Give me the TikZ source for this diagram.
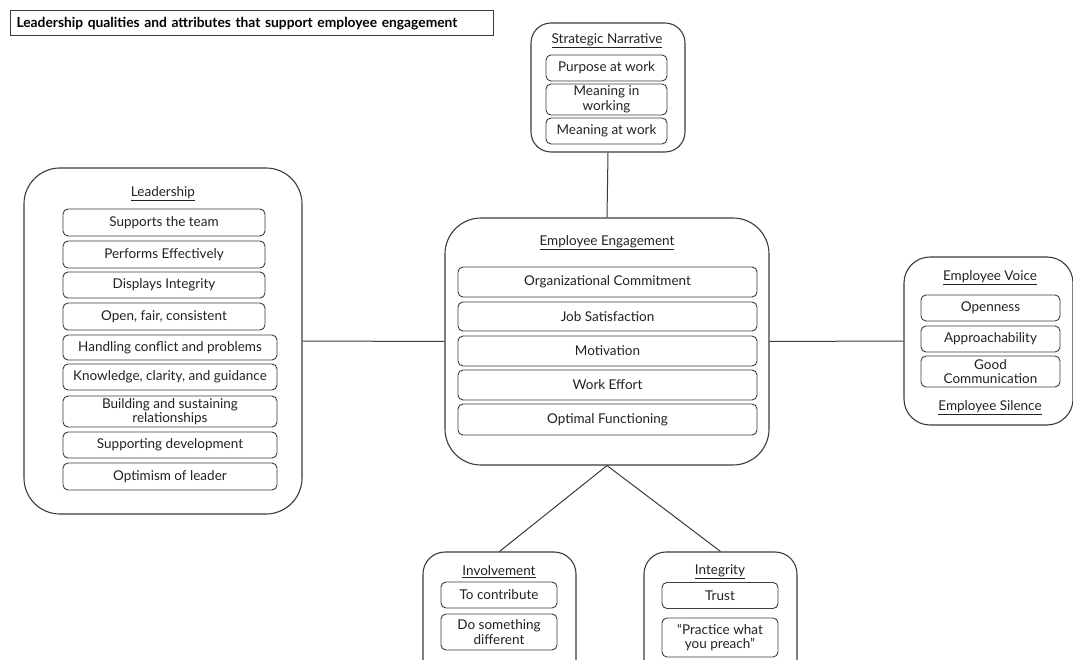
\documentclass[tikz,border=0pt]{standalone}
\usepackage{fontspec}
\setmainfont{Lato}
\definecolor{ln}{HTML}{3C3C3C}
\definecolor{tx}{HTML}{222222}
\tikzset{
  outerbox/.style={draw=ln, line width=1.1pt, rounded corners=#1, inner sep=0pt},
  outerbox/.default=32pt,
  itembox/.style={draw=ln, line width=0.9pt, rounded corners=5pt, inner sep=0pt, align=center, text=tx, font=\fontsize{13.5}{14.5}\selectfont},
  headtext/.style={text=tx, inner sep=0pt, font=\fontsize{13.5}{15}\selectfont},
  link/.style={draw=ln, line width=1pt}
}
\begin{document}
\begin{tikzpicture}[x=1pt,y=-1pt]
\useasboundingbox (0,0) rectangle (1073,660);
\clip (0,0) rectangle (1073,660);
\fill[white] (0,0) rectangle (1073,660);
% title
\node[draw=ln, line width=1pt, anchor=west, text width=471pt, align=left, inner xsep=6pt, minimum height=25pt, text=black, font=\bfseries\fontsize{13.8}{15}\selectfont] (title) at (10,23.5) {Leadership qualities and attributes that support employee engagement};

% Strategic Narrative
\node[outerbox=20pt, minimum width=154pt, minimum height=129pt] (sn) at (608,87.5) {};
\node[headtext] (snt) at (607,41) {\underline{Strategic Narrative}};
\node[itembox, minimum width=121pt, minimum height=26pt] (sn1) at (606.5,68) {Purpose at work};
\node[itembox, minimum width=121pt, minimum height=31pt] (sn2) at (606.5,99.5) {Meaning in\\working};
\node[itembox, minimum width=121pt, minimum height=26pt] (sn3) at (606.5,131) {Meaning at work};

% Employee Engagement
\node[outerbox=36pt, minimum width=324pt, minimum height=247pt] (ee) at (607,341.5) {};
\node[headtext] (eet) at (607,243) {\underline{Employee Engagement}};
\node[itembox, minimum width=299pt, minimum height=30pt] (ee1) at (607.5,282) {Organizational Commitment};
\node[itembox, minimum width=299pt, minimum height=29pt] (ee2) at (607.5,316.5) {Job Satisfaction};
\node[itembox, minimum width=299pt, minimum height=30pt] (ee3) at (607.5,351) {Motivation};
\node[itembox, minimum width=299pt, minimum height=30pt] (ee4) at (607.5,385) {Work Effort};
\node[itembox, minimum width=299pt, minimum height=31pt] (ee5) at (607.5,419.5) {Optimal Functioning};

% Leadership
\node[outerbox=36pt, minimum width=278pt, minimum height=346pt] (ld) at (163,341) {};
\node[headtext] (ldt) at (163,194) {\underline{Leadership}};
\node[itembox, minimum width=202pt, minimum height=27pt] (ld1) at (164,222.5) {Supports the team};
\node[itembox, minimum width=202pt, minimum height=27pt] (ld2) at (164,254.5) {Performs Effectively};
\node[itembox, minimum width=202pt, minimum height=26pt] (ld3) at (164,285) {Displays Integrity};
\node[itembox, minimum width=202pt, minimum height=27pt] (ld4) at (164,316.5) {Open, fair, consistent};
\node[itembox, minimum width=214pt, minimum height=25pt] (ld5) at (170,347.5) {Handling conflict and problems};
\node[itembox, minimum width=214pt, minimum height=26pt] (ld6) at (170,377) {Knowledge, clarity, and guidance};
\node[itembox, minimum width=214pt, minimum height=31pt] (ld7) at (170,411.5) {Building and sustaining\\relationships};
\node[itembox, minimum width=214pt, minimum height=26pt] (ld8) at (170,445) {Supporting development};
\node[itembox, minimum width=214pt, minimum height=27pt] (ld9) at (170,476.5) {Optimism of leader};

% Employee Voice
\node[outerbox=26pt, minimum width=169pt, minimum height=168pt] (ev) at (988.5,341) {};
\node[headtext] (evt) at (990,278) {\underline{Employee Voice}};
\node[itembox, minimum width=139pt, minimum height=26pt] (ev1) at (990.5,308) {Openness};
\node[itembox, minimum width=139pt, minimum height=26pt] (ev2) at (990.5,339) {Approachability};
\node[itembox, minimum width=139pt, minimum height=31pt] (ev3) at (990.5,371.5) {Good\\Communication};
\node[headtext] (evs) at (990,408) {\underline{Employee Silence}};

% Involvement
\node[outerbox=22pt, minimum width=153pt, minimum height=140pt] (inv) at (499.5,622) {};
\node[headtext] (invt) at (499,572) {\underline{Involvement}};
\node[itembox, minimum width=116pt, minimum height=26pt] (inv1) at (499,595) {To contribute};
\node[itembox, minimum width=116pt, minimum height=36pt] (inv2) at (499,632) {Do something\\different};

% Integrity
\node[outerbox=22pt, minimum width=153pt, minimum height=140pt] (itg) at (720.5,622) {};
\node[headtext] (itgt) at (720,572) {\underline{Integrity}};
\node[itembox, minimum width=116pt, minimum height=26pt] (itg1) at (720,595.5) {Trust};
\node[itembox, minimum width=116pt, minimum height=39pt] (itg2) at (720,637.5) {``Practice what\\you preach''};

% connectors
\draw[link] (sn.south) -- (ee.north);
\draw[link] (ld.east) -- (ee.west);
\draw[link] (ee.east) -- (ev.west);
\draw[link] (ee.south) -- (inv.north);
\draw[link] (ee.south) -- (itg.north);
\end{tikzpicture}
\end{document}
